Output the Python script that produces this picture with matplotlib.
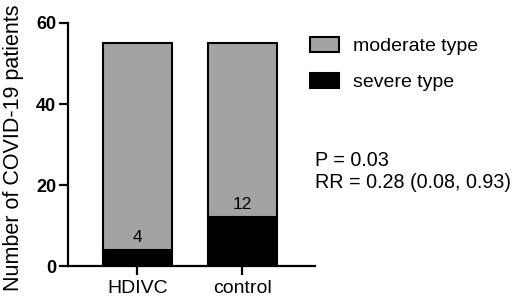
import numpy as np
from matplotlib import pyplot as plt

plt.rcParams['font.family'] = ['Liberation Sans', 'DejaVu Sans']

groups = ['HDIVC', 'control']
severe = [4, 12]
moderate = [51, 43]
labels = ['moderate type', 'severe type']

fig = plt.figure(figsize=(5.12, 2.98), dpi=100)
ax = fig.add_axes([0.133, 0.107, 0.482, 0.816])

x = np.arange(len(groups))
ax.bar(x, severe, width=0.65, color='black', edgecolor='black', linewidth=1.5, label=labels[1])
ax.bar(x, moderate, width=0.65, bottom=severe, color='#a3a3a3', edgecolor='black', linewidth=1.5, label=labels[0])

for xi, s in zip(x, severe):
    ax.text(xi, s + 1.3, str(s), ha='center', va='bottom', fontsize=12.5)

ax.set_xlim(-0.66, 1.69)
ax.set_ylim(0, 60)
ax.set_yticks([0, 20, 40, 60])
ax.set_xticks(x)
ax.set_xticklabels(groups, fontsize=14)
for t in ax.get_yticklabels():
    t.set_fontweight('bold')
    t.set_fontsize(13)
ax.spines['top'].set_visible(False)
ax.spines['right'].set_visible(False)
ax.spines['left'].set_linewidth(1.6)
ax.spines['bottom'].set_linewidth(1.6)
ax.tick_params(width=1.6, length=6.5)
ax.tick_params(axis='y', pad=2)

fig.text(14 / 512, 1 - 148 / 298, 'Number of COVID-19 patients', rotation=90,
         fontsize=15.5, ha='center', va='center')

h, l = ax.get_legend_handles_labels()
fig.legend(h[::-1], l[::-1], loc='upper left', bbox_to_anchor=(0.571, 0.935),
           frameon=False, fontsize=14, handlelength=1.5, handleheight=0.85,
           labelspacing=0.9, handletextpad=0.72)

fig.text(0.615, 0.426, 'P = 0.03\nRR = 0.28 (0.08, 0.93)', fontsize=14.2,
         va='center', ha='left', linespacing=1.2)

fig.savefig('out.png', dpi=100)
